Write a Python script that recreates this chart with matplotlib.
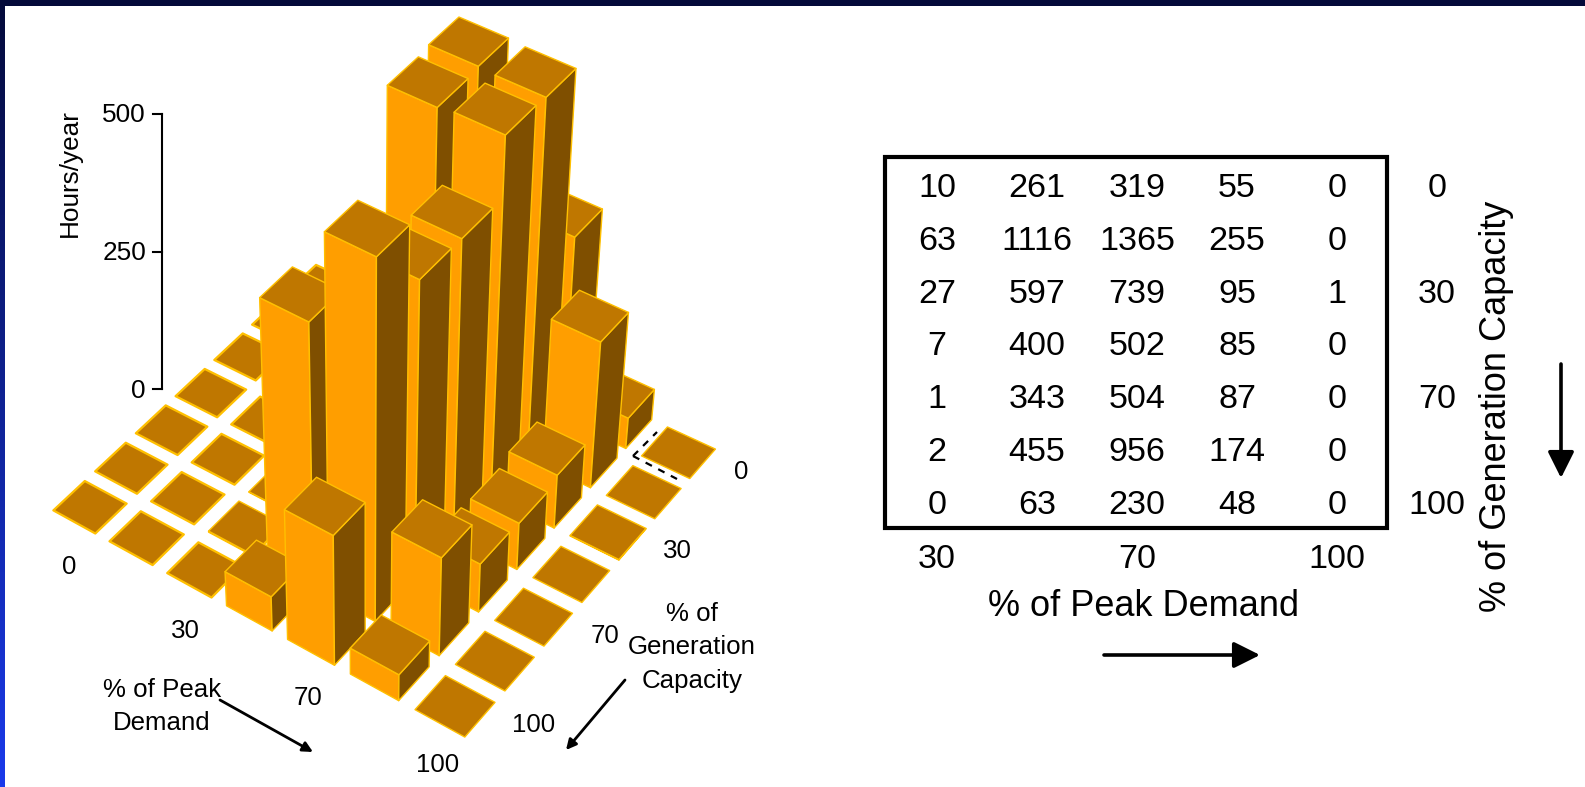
import numpy as np
import matplotlib
matplotlib.use("Agg")
import matplotlib.pyplot as plt
from matplotlib.patches import Polygon, Rectangle

plt.rcParams['font.family'] = ['Liberation Sans', 'DejaVu Sans']

# --- data -------------------------------------------------------------
table_rows = [
    [10, 261, 319, 55, 0],
    [63, 1116, 1365, 255, 0],
    [27, 597, 739, 95, 1],
    [7, 400, 502, 85, 0],
    [1, 343, 504, 87, 0],
    [2, 455, 956, 174, 0],
    [0, 63, 230, 48, 0],
]
# bar heights as drawn in the 3-D view (tall bars are truncated there);
# columns are demand bins 0..6, rows are capacity bins 0..6
bars_row0 = [0, 0, 10, 262, 331, 55, 0]
bars_row1 = [0, 0, 63, 658, 655, 265, 0]
bars_row2 = [0, 0, 27, 653, 658, 96, 1]
bars_row3 = [0, 0, 7, 429, 543, 84, 0]
bars_row4 = [0, 0, 1, 368, 544, 87, 0]
bars_row5 = [0, 0, 2, 484, 663, 178, 0]
bars_row6 = [0, 0, 0, 62, 236, 47, 0]
z_ticks = [0, 250, 500]
table_x_labels = ["30", "70", "100"]
table_y_labels = ["0", "30", "70", "100"]

# --- style ------------------------------------------------------------
FRONT, SIDE, TOP, EDGE = "#FF9E00", "#7F4F00", "#BF7700", "#FFC000"
W, H = 1585, 787
PX_PER_HOUR = 0.55

fig = plt.figure(figsize=(W / 100, H / 100), dpi=100)
ax = fig.add_axes([0, 0, 1, 1])
ax.set_xlim(0, W)
ax.set_ylim(H, 0)
ax.axis("off")

# frame: navy top strip and blue gradient on the left
grad = np.linspace(0, 1, 256)[:, None, None]
c0, c1 = np.array([4, 10, 58]) / 255, np.array([26, 58, 235]) / 255
ax.imshow(c0 + (c1 - c0) * grad, extent=(0, 5, H, 0), aspect="auto", zorder=0)
ax.add_patch(Rectangle((0, 0), W, 6, fc="#040A3A", ec="none", zorder=1))
ax.set_xlim(0, W)
ax.set_ylim(H, 0)

# --- projection: homography from grid corners -------------------------
src = [(0, 6), (6, 6), (6, 0), (0, 0)]
dst = [(90, 507), (455, 706), (678.5, 452.5), (323, 287)]
A, b = [], []
for (u, v), (x, y) in zip(src, dst):
    A.append([u, v, 1, 0, 0, 0, -u * x, -v * x]); b.append(x)
    A.append([0, 0, 0, u, v, 1, -u * y, -v * y]); b.append(y)
hom = np.append(np.linalg.solve(np.array(A, float), np.array(b, float)), 1).reshape(3, 3)
XV, K = 365.0, 3200.0
HALF = 0.375


def project(d, g, hours=0.0):
    p = hom @ np.array([d, g, 1.0])
    bx, by = p[0] / p[2], p[1] / p[2]
    z = hours * PX_PER_HOUR
    return (bx + (bx - XV) * z / K, by - z)


def draw_bar(d, g, hours, order):
    d0, d1, g0, g1 = d - HALF, d + HALF, g - HALF, g + HALF
    if hours > 0:
        front = [project(d0, g1), project(d1, g1), project(d1, g1, hours), project(d0, g1, hours)]
        side = [project(d1, g1), project(d1, g0), project(d1, g0, hours), project(d1, g1, hours)]
        ax.add_patch(Polygon(front, fc=FRONT, ec=EDGE, lw=1.0, joinstyle="round", zorder=order))
        ax.add_patch(Polygon(side, fc=SIDE, ec=EDGE, lw=1.0, joinstyle="round", zorder=order))
    top = [project(d0, g1, hours), project(d1, g1, hours), project(d1, g0, hours), project(d0, g0, hours)]
    edge_lw = 1.0 if hours > 0 or d > 3 else 1.6
    ax.add_patch(Polygon(top, fc=TOP, ec=EDGE, lw=edge_lw, joinstyle="round", zorder=order))


rows = [bars_row0, bars_row1, bars_row2, bars_row3, bars_row4, bars_row5, bars_row6]
order = 2.0
for g, row in enumerate(rows):
    for d, val in enumerate(row):
        draw_bar(d, g, val, order)
        order += 0.01

# dashed corner marker
for end_x, end_y in [(657, 432), (677, 479)]:
    ax.plot([633, end_x], [456, end_y], color="black", lw=1.6, ls=(0, (3.2, 3.2)), zorder=5)

# z axis
AXIS_X = 162
z_y = {v: 389 - v * PX_PER_HOUR for v in z_ticks}
ax.plot([AXIS_X, AXIS_X], [z_y[0], z_y[500]], color="black", lw=1.5, zorder=6)
for v in z_ticks:
    ax.plot([AXIS_X - 9, AXIS_X], [z_y[v], z_y[v]], color="black", lw=1.5, zorder=6)
    ax.text(146, z_y[v] + 1.5, str(v), ha="right", va="center", fontsize=18.8, zorder=6)
ax.text(70, 173, "Hours/year", rotation=90, ha="center", va="center", fontsize=18.8)

FS = 18.6
for s, x, y in [("0", 69, 567), ("30", 185, 631), ("70", 308, 698), ("100", 438, 765),
                ("0", 741, 472), ("30", 677, 551), ("70", 605, 636), ("100", 534, 725)]:
    ax.text(x, y, s, ha="center", va="center", fontsize=FS)
for s, x, y in [("% of", 692, 614), ("Generation", 692, 647), ("Capacity", 692, 681),
                ("% of Peak", 162, 690), ("Demand", 162, 723)]:
    ax.text(x, y, s, ha="center", va="center", fontsize=FS)


def arrow(p0, p1, lw, ms):
    ax.annotate("", xy=p1, xytext=p0, zorder=6,
                arrowprops=dict(arrowstyle=f"-|>,head_length={ms},head_width={ms * 0.5}",
                                color="black", lw=lw, shrinkA=0, shrinkB=0))


arrow((220, 700), (313, 752), 2, 0.6)
arrow((625, 680), (566, 750), 2, 0.6)

# --- table ------------------------------------------------------------
BIG = 24.6
LABEL = 26
ax.add_patch(Rectangle((885, 157), 502, 371, fc="none", ec="black", lw=3, zorder=3))
col_x = [937, 1037, 1137, 1237, 1337]
row_y = [188.5, 241.5, 294.5, 346.5, 399.5, 452.5, 505.5]
for row, y in zip(table_rows, row_y):
    for val, x in zip(row, col_x):
        ax.text(x, y, str(val), ha="center", va="center", fontsize=BIG)
for s, x in zip(table_x_labels, [937, 1137, 1337]):
    ax.text(x, 560, s, ha="center", va="center", fontsize=BIG)
for s, y in zip(table_y_labels, [188.5, 294.5, 399.5, 505.5]):
    ax.text(1437, y, s, ha="center", va="center", fontsize=BIG)
ax.text(1143, 606, "% of Peak Demand", ha="center", va="center", fontsize=LABEL)
ax.text(1497, 406, "% of Generation Capacity", rotation=90, ha="center", va="center", fontsize=LABEL)

arrow((1104, 655), (1260, 655), 2.6, 1.6)
arrow((1561, 364), (1561, 478), 2.6, 1.6)

fig.savefig("out.png", dpi=100, facecolor="white")
